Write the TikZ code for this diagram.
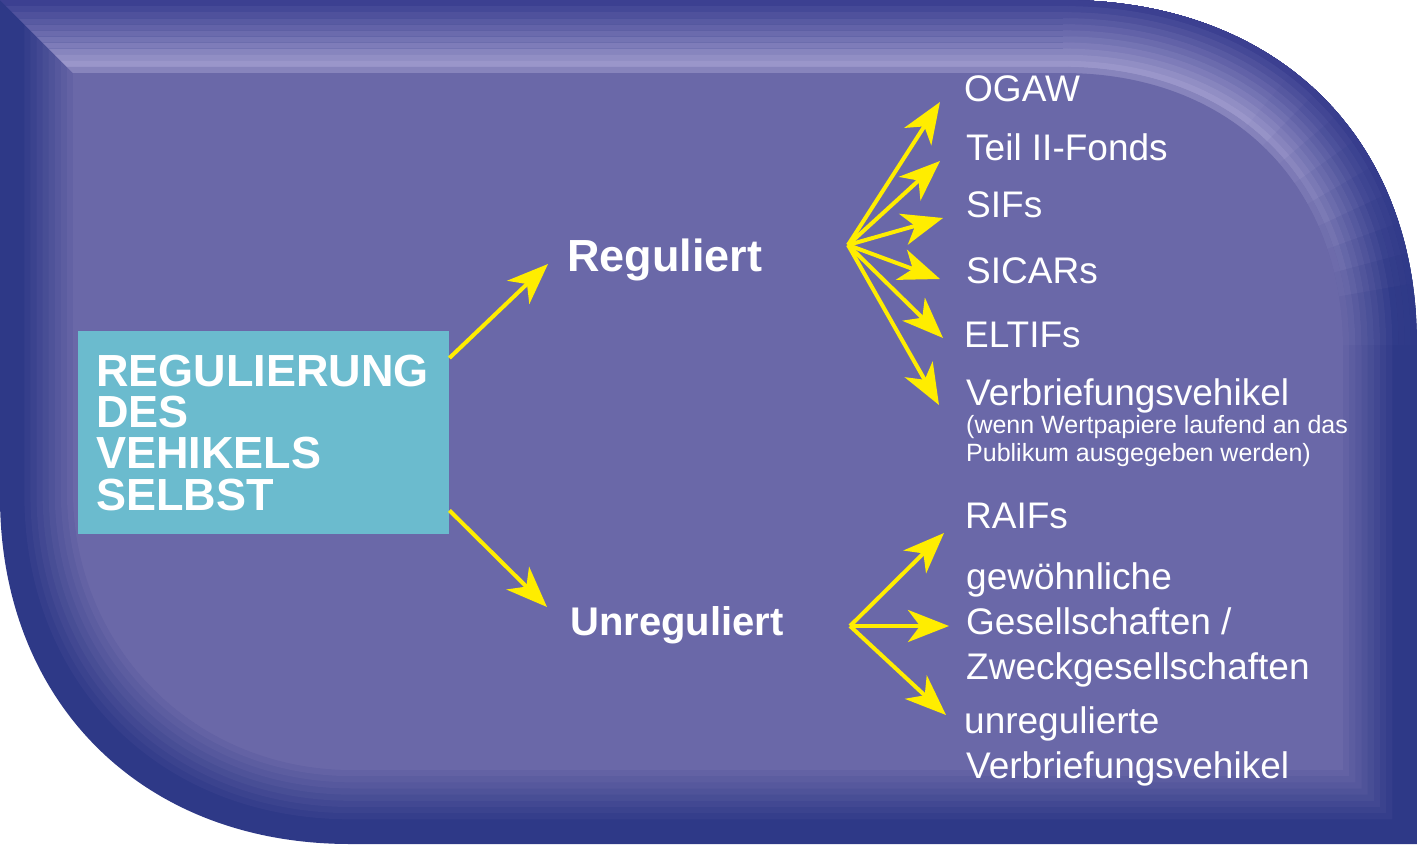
\documentclass[tikz,border=0pt]{standalone}
\usepackage{fontspec}
\setmainfont{Liberation Sans}
\usetikzlibrary{calc,arrows.meta}
\definecolor{framedark}{RGB}{46,57,135}
\definecolor{topdark}{RGB}{60,64,145}
\definecolor{facecol}{RGB}{106,104,168}
\definecolor{hilite}{RGB}{154,150,202}
\definecolor{boxcyan}{RGB}{107,187,206}
\definecolor{arrowyellow}{RGB}{255,237,0}
\newcommand{\bevelpath}[1]{($(A0)!#1!(A1)$) -- ($(B0)!#1!(B1)$)
    .. controls ($(P0)!#1!(P1)$) and ($(Q0)!#1!(Q1)$) .. ($(C0)!#1!(C1)$)
    -- ($(D0)!#1!(D1)$) -- ($(E0)!#1!(E1)$)
    .. controls ($(R0)!#1!(R1)$) and ($(S0)!#1!(S1)$) .. ($(F0)!#1!(F1)$) -- cycle}
\newcommand{\bevellayer}[2]{\fill[#2] \bevelpath{#1};}
\newcommand{\bevelring}[3]{\fill[#3, even odd rule] \bevelpath{#1} \bevelpath{#2};}
% top-band rings, highlight weight #1 (0..100)
\newcommand{\topbands}[1]{%
  \foreach \i in {0,...,11}{%
    \pgfmathsetmacro\ta{\i/12}%
    \pgfmathsetmacro\tb{(\i+1)/12}%
    \pgfmathtruncatemacro\p{max(0,100*(\i-3)/9)}%
    \pgfmathtruncatemacro\q{min(100,10*\i)}%
    \ifnum\i=11\relax\colorlet{tcol}{hilite!60!facecol}\else\colorlet{tcol}{hilite!\q!topdark}\fi
    \colorlet{scol}{facecol!\p!framedark}%
    \bevelring{\ta}{\tb}{tcol!#1!scol}}}
\begin{document}
\begin{tikzpicture}[x=1pt,y=-1pt,
  lbl/.style={text=white, inner sep=0pt, anchor=base west, font=\fontsize{37}{44}\selectfont},
  smalllbl/.style={lbl, font=\fontsize{25}{28}\selectfont},
  midlbl/.style={text=white, inner sep=0pt, anchor=base west},
  yarrow/.style={draw=arrowyellow, line width=4pt, -{Stealth[length=41pt, width=32pt, inset=12pt]}}]
\useasboundingbox (0,0) rectangle (1417,844);
% frame key points: outer (0) and inner (1)
\coordinate (A0) at (0,0);      \coordinate (A1) at (73,73);
\coordinate (B0) at (1063,0);   \coordinate (B1) at (1063,73);
\coordinate (P0) at (1275,0);   \coordinate (P1) at (1232,73);
\coordinate (Q0) at (1417,135); \coordinate (Q1) at (1343,185);
\coordinate (C0) at (1417,345); \coordinate (C1) at (1343,350);
\coordinate (D0) at (1417,844); \coordinate (D1) at (1343,770);
\coordinate (E0) at (350,844);  \coordinate (E1) at (353,770);
\coordinate (R0) at (140,844);  \coordinate (R1) at (195,770);
\coordinate (S0) at (0,700);    \coordinate (S1) at (73,648);
\coordinate (F0) at (0,497);    \coordinate (F1) at (73,490);
\coordinate (O) at (1063,345);
% bevelled frame: dark sides
\foreach \i in {0,...,12}{%
  \pgfmathsetmacro\t{\i/12}%
  \pgfmathtruncatemacro\p{max(0,100*(\i-3)/9)}%
  \bevellayer{\t}{facecol!\p!framedark}}
% lit top band, fading round the top-right corner
\foreach \k in {17,16,...,0}{%
  \pgfmathsetmacro\alow{90-5*(\k+1)}%
  \pgfmathtruncatemacro\w{min(100,max(6,100*(\alow+2.5-5)/45))}%
  \begin{scope}
    \clip (O) -- ($(O)+(-\alow:900)$) -- ($(O)+(-90:900)$) -- cycle;
    \topbands{\w}
  \end{scope}}
\begin{scope}
  \clip (0,0) -- (73,73) -- (1068,73) -- (1068,-5) -- (0,-5) -- cycle;
  \topbands{100}
\end{scope}
\bevellayer{1}{facecol}
% main box
\node[fill=boxcyan, anchor=north west, text width=335pt, minimum height=203pt,
      inner xsep=18pt, inner ysep=0pt, align=left, text=white,
      font=\bfseries\fontsize{45}{41.3}\selectfont] (box) at (78,331)
      {REGULIERUNG\\DES\\VEHIKELS\\SELBST};
% middle labels
\node[midlbl, font=\bfseries\fontsize{45}{50}\selectfont] (reg) at (567,271) {Reguliert};
\node[midlbl, font=\bfseries\fontsize{40}{46}\selectfont] (unr) at (570,635) {Unreguliert};
% right labels
\node[lbl] (ogaw) at (964,101) {OGAW};
\node[lbl] (teil) at (966,160) {Teil II-Fonds};
\node[lbl] (sifs) at (966,217) {SIFs};
\node[lbl] (sicars) at (966,283) {SICARs};
\node[lbl] (eltifs) at (964,347) {ELTIFs};
\node[lbl] (verb) at (966,405) {Verbriefungsvehikel};
\node[smalllbl] (verbnotea) at (966,433) {(wenn Wertpapiere laufend an das};
\node[smalllbl] (verbnoteb) at (966,461) {Publikum ausgegeben werden)};
\node[lbl] (raifs) at (965,528) {RAIFs};
\node[lbl] (gew) at (966,589) {gewöhnliche};
\node[lbl] (ges) at (966,634) {Gesellschaften /};
\node[lbl] (zweck) at (966,679) {Zweckgesellschaften};
\node[lbl] (unreglbl) at (964,733) {unregulierte};
\node[lbl] (unverb) at (966,778) {Verbriefungsvehikel};
% arrows from the box
\coordinate (regtip) at (548,264);
\coordinate (unrtip) at (547,607);
\draw[yarrow] ($(box.north east)+(0,27)$) -- (regtip);
\draw[yarrow] ($(box.south east)+(0,-24)$) -- (unrtip);
% fan of regulated vehicles
\coordinate (regfan) at (848,245);
\foreach \n/\x/\y in {1/940/102, 2/940/161, 3/943/218, 4/940/279, 5/943/338, 6/939/405}{%
  \coordinate (rt\n) at (\x,\y);
  \draw[yarrow] (regfan) -- (rt\n);}
% fan of unregulated vehicles
\coordinate (unfan) at (850,626);
\foreach \n/\x/\y in {1/944/533, 2/949/626, 3/946/715}{%
  \coordinate (ut\n) at (\x,\y);
  \draw[yarrow] (unfan) -- (ut\n);}
\end{tikzpicture}
\end{document}
